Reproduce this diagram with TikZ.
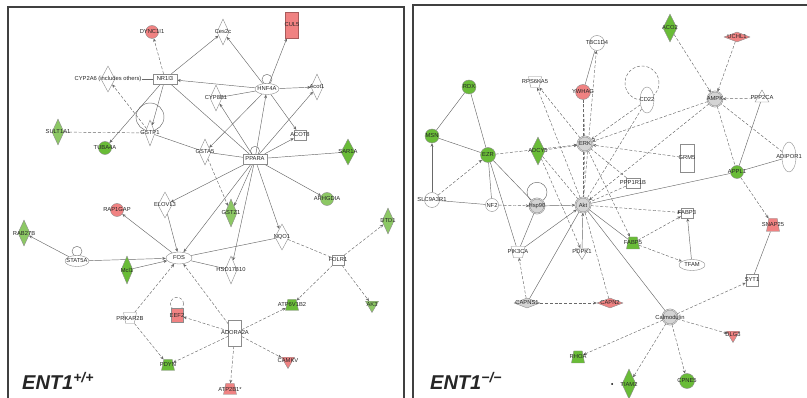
\documentclass[tikz,border=0pt]{standalone}
\usepackage{fontspec}
\setmainfont{Liberation Sans}
\usetikzlibrary{shapes.geometric,arrows.meta}
\pgfdeclarelayer{bg}
\pgfsetlayers{bg,main}
\definecolor{gn}{RGB}{105,188,55}
\definecolor{lg}{RGB}{140,200,100}
\definecolor{rd}{RGB}{240,130,130}
\definecolor{cpx}{RGB}{212,212,212}
\definecolor{edgec}{RGB}{105,105,105}
\begin{document}
\begin{tikzpicture}[x=1pt,y=-1pt,
 lbl/.style={font=\fontsize{5.8}{5.8}\selectfont, text=black!85, inner sep=0pt},
 g/.style={draw=black!45, line width=0.4pt, inner sep=0pt, fill=white, label={[lbl]center:#1}},
 circ/.style={g=#1, circle, minimum size=13pt},
 cplx/.style={g=#1, circle, minimum size=15pt, fill=cpx, double=cpx, double distance=0.8pt},
 dia/.style={g=#1, diamond, minimum width=12pt, minimum height=26pt},
 flat/.style={g=#1, diamond, minimum width=26pt, minimum height=10pt},
 box/.style={g=#1, rectangle, minimum width=24pt, minimum height=10pt},
 sq/.style={g=#1, rectangle, minimum width=12pt, minimum height=10pt},
 tall/.style={g=#1, rectangle, minimum width=13pt, minimum height=26pt},
 ell/.style={g=#1, ellipse, minimum width=24pt, minimum height=11pt},
 tell/.style={g=#1, ellipse, minimum width=14pt, minimum height=26pt},
 tdown/.style={g=#1, regular polygon, regular polygon sides=3, shape border rotate=180, minimum size=15pt},
 tup/.style={g=#1, regular polygon, regular polygon sides=3, minimum size=16pt},
 trap/.style={g=#1, trapezium, inner sep=1.5pt, trapezium stretches=true, trapezium left angle=75, trapezium right angle=75, minimum width=13pt, minimum height=11pt},
 ktrap/.style={trap=#1, shape border rotate=180},
 ln/.style={draw=edgec, line width=0.45pt},
 ds/.style={ln, dash pattern=on 3pt off 1.8pt},
 ar/.style={-{Stealth[length=3.5pt,width=3pt]}},
 frame/.style={draw=black!75, line width=2pt},
 title/.style={font=\bfseries\itshape\fontsize{20}{20}\selectfont, text=black!85, anchor=base west, inner sep=0pt}
]
\useasboundingbox (0,0) rectangle (807,398);
\draw[frame] (8,7) rectangle (404,410);
\draw[frame] (413,5) rectangle (815,410);

% ---------- left panel nodes ----------
\node[circ=DYNC1I1, fill=rd] (dync) at (152,32) {};
\node[dia=Ces2c] (ces) at (223,32) {};
\node[tall=CUL5, fill=rd, draw=rd!70!black] (cul5) at (292,25) {};
\node[box=NR1I3] (nr) at (165,79) {};
\node[dia={}, minimum width=14pt] (cyp) at (108,79) {};
\node[lbl] (cyplbl) at (108,79) {CYP2A6 (includes others)};
\node[ell=HNF4A] (hnf) at (267,89) {};
\node[dia=Acot1] (mly) at (317,87) {};
\node[dia=CYP8B1] (cyp8) at (216,98) {};
\node[dia=GSTP1, minimum width=10pt] (gstp) at (150,133) {};
\node[dia=SULT1A1, fill=lg] (sult) at (58,132) {};
\node[circ=TUBA4A, fill=gn] (tuba) at (105,148) {};
\node[dia=GSTA5] (gsta) at (205,152) {};
\node[box=PPARA] (ppara) at (255,159) {};
\node[sq=ACOT8] (acot) at (300,135) {};
\node[dia=SAR1A, fill=gn, minimum width=14pt] (sar) at (348,152) {};
\node[circ=ARHGDIA, fill=lg] (arh) at (327,199) {};
\node[dia=GSTZ1, fill=lg, minimum height=28pt] (gstz) at (231,213) {};
\node[dia=DTD1, fill=lg] (dtd) at (388,221) {};
\node[dia=NQO1, minimum width=14pt] (nqo) at (282,237) {};
\node[sq=FOLR1] (folr) at (338,260) {};
\node[dia=ELOVL3, minimum width=14pt] (elo) at (165,205) {};
\node[circ=RAP1GAP, fill=rd] (rap) at (117,210) {};
\node[dia=RAB27B, fill=lg] (rab) at (24,233) {};
\node[ell=STAT5A] (stat) at (77,261) {};
\node[ell=FOS, minimum width=26pt, minimum height=12pt] (fos) at (179,258) {};
\node[dia=Mcl1, fill=gn, minimum height=28pt] (mcl) at (127,270) {};
\node[dia=HSD17B10, minimum height=28pt] (hsd) at (231,270) {};
\node[trap=ATP6V1B2, fill=gn] (atp6) at (292,305) {};
\node[tdown=AK3, fill=lg] (ak3) at (372,305) {};
\node[sq=EEF2, fill=rd, minimum height=14pt] (eef) at (177,315) {};
\node[ktrap=PRKAR2B] (prk) at (130,318) {};
\node[tall=ADORA2A] (ado) at (235,333) {};
\node[tdown=CAMKV, fill=rd] (cam) at (288,361) {};
\node[trap=PDYN, fill=gn] (pdyn) at (168,365) {};
\node[trap=ATP2B1*, fill=rd] (atp2) at (230,389) {};
\node[title] (t1) at (22,390) {ENT1\textsuperscript{+/+}};

% ---------- right panel nodes ----------
\node[circ=TBC1D4, minimum size=15pt] (tbc) at (597,43) {};
\node[ktrap=RPS6KA5] (rps) at (535,82) {};
\node[circ=YWHAG, fill=rd, minimum size=15pt] (ywh) at (583,92) {};
\node[circ=RDX, fill=gn, minimum size=14pt] (rdx) at (469,87) {};
\node[circ=MSN, fill=gn, minimum size=14pt] (msn) at (432,136) {};
\node[dia=ACO2, fill=gn, minimum width=14pt, minimum height=28pt] (aco) at (670,28) {};
\node[flat=UCHL1, fill=rd] (uch) at (737,37) {};
\node[tell=CD22] (cd22) at (647,100) {};
\node[cplx=AMPK] (ampk) at (715,99) {};
\node[tup=PPP2CA] (ppp2) at (762,98) {};
\node[circ=EZR, fill=gn, minimum size=15pt] (ezr) at (488,155) {};
\node[dia=ADCY5, fill=gn, minimum width=14pt, minimum height=28pt] (adcy) at (538,151) {};
\node[cplx=ERK] (erk) at (585,144) {};
\node[circ=SLC9A3R1, minimum size=15pt] (slc) at (432,200) {};
\node[circ=NF2] (nf2) at (492,205) {};
\node[cplx=Hsp90] (hsp) at (537,206) {};
\node[cplx=Akt] (akt) at (583,205) {};
\node[ktrap=PIK3CA, minimum width=14pt] (pik) at (518,252) {};
\node[tdown=PDPK1] (pdpk) at (582,252) {};
\node[tall=GRM5, minimum width=14pt, minimum height=28pt] (grm) at (687,158) {};
\node[sq=PPP1R1B, minimum width=14pt] (ppp1) at (633,183) {};
\node[circ=APPL1, fill=gn] (appl) at (737,172) {};
\node[tell=ADIPOR1, minimum height=30pt] (adip) at (789,157) {};
\node[sq=FABP3] (fabp3) at (687,213) {};
\node[trap=SNAP25, fill=rd, minimum width=13pt, minimum height=13pt] (snap) at (773,225) {};
\node[trap=FABP5, fill=gn, minimum width=13pt, minimum height=12pt] (fabp5) at (633,243) {};
\node[ell=TFAM, minimum width=26pt] (tfam) at (692,265) {};
\node[sq=SYT1, minimum height=12pt] (syt) at (752,280) {};
\node[flat=CAPNS1, fill=cpx] (capns) at (527,303) {};
\node[flat=CAPN2, fill=rd] (capn) at (610,303) {};
\node[cplx=Calmodulin] (calm) at (670,317) {};
\node[trap=RHOA, fill=gn, minimum width=13pt, minimum height=12pt] (rhoa) at (578,357) {};
\node[tdown=DLG3, fill=rd] (dlg) at (733,335) {};
\node[dia=TIAM2, fill=gn, minimum width=14pt, minimum height=30pt] (tiam) at (629,384) {};
\node[circle, fill=black, minimum size=2pt, inner sep=0pt] (dot) at (612,384) {};
\node[circ=CPNE5, fill=gn, minimum size=15pt] (cpne) at (687,381) {};
\node[title] (t2) at (430,390) {ENT1\textsuperscript{−/−}};

\begin{pgfonlayer}{bg}
% self loops
\draw[ln] ([yshift=4pt]hnf.north) circle[radius=5pt];
\draw[ln] ([yshift=16pt]gstp.center) circle[radius=14pt];
\draw[ln] ([yshift=3pt]ppara.north) circle[radius=4.5pt];
\draw[ln] ([yshift=4pt]stat.north) circle[radius=5pt];
\draw[ds] ([yshift=4pt]eef.north) circle[radius=6.5pt];
\draw[ln] ([yshift=6pt]hsp.north) circle[radius=10pt];
\draw[ds] (642,83) circle[radius=17pt];
% left edges
\draw[ds,ar] (nr) -- (dync);
\draw[ln,ar] (hnf) -- (nr);
\draw[ln] (cyplbl) -- (nr);
\draw[ds,ar] (gstp) -- (cyp);
\draw[ln,ar] (nr) -- (gstp);
\draw[ds] (sult) -- (gstp);
\draw[ln,ar] (nr) -- (tuba);
\draw[ln,ar] (nr) -- (ces);
\draw[ln,ar] (hnf) -- (ces);
\draw[ln,ar] (hnf) -- (cul5);
\draw[ln,ar] (hnf) -- (mly);
\draw[ln] (cyp8) -- (hnf);
\draw[ln,ar] (hnf) -- (acot);
\draw[ln,ar] (ppara) -- (hnf);
\draw[ln,ar] (hnf) -- (gsta);
\draw[ln,ar] (ppara) -- (cyp8);
\draw[ln,ar] (ppara) -- (mly);
\draw[ln,ar] (ppara) -- (acot);
\draw[ln] (ppara) -- (sar);
\draw[ln,ar] (ppara) -- (arh);
\draw[ln,ar] (ppara) -- (gstz);
\draw[ln,ar] (ppara) -- (nqo);
\draw[ln,ar] (ppara) -- (hsd);
\draw[ln,ar] (ppara) -- (fos);
\draw[ln] (ppara) -- (gsta);
\draw[ln] (nr) -- (ppara);
\draw[ln] (gstp) -- (gsta);
\draw[ds,ar] (gsta) -- (gstz);
\draw[ln,ar] (ppara) -- (elo);
\draw[ln,ar] (fos) -- (rap);
\draw[ln,ar] (stat) -- (rab);
\draw[ln,ar] (stat) -- (fos);
\draw[ln,ar] (elo) -- (fos);
\draw[ln,ar] (mcl) -- (fos);
\draw[ln] (fos) -- (nqo);
\draw[ln] (fos) -- (hsd);
\draw[ds] (nqo) -- (folr);
\draw[ds,ar] (folr) -- (dtd);
\draw[ds,ar] (folr) -- (ak3);
\draw[ds,ar] (folr) -- (atp6);
\draw[ds,ar] (ado) -- (atp6);
\draw[ds,ar] (ado) -- (cam);
\draw[ds,ar] (ado) -- (atp2);
\draw[ds,ar] (ado) -- (eef);
\draw[ds,ar] (ado) -- (pdyn);
\draw[ds,ar] (ado) -- (fos);
\draw[ds,ar] (prk) -- (fos);
\draw[ds,ar] (prk) -- (pdyn);
% right edges
\draw[ln] (rdx) -- (msn);
\draw[ln] (rdx) -- (ezr);
\draw[ln] (msn) -- (ezr);
\draw[ln,ar] (slc) -- (msn);
\draw[ds,ar] (slc) -- (ezr);
\draw[ln] (slc) -- (nf2);
\draw[ds,ar] (nf2) -- (hsp);
\draw[ln] (ezr) -- (nf2);
\draw[ln] (ezr) -- (hsp);
\draw[ln] (ezr) -- (pik);
\draw[ds,ar] (ezr) -- (erk);
\draw[ds,ar] (adcy) -- (erk);
\draw[ds,ar] (adcy) -- (pdpk);
\draw[ds] (adcy) -- (akt);
\draw[ln,ar] (hsp) -- (akt);
\draw[ln] (pik) -- (hsp);
\draw[ln,ar] (pik) -- (akt);
\draw[ln,ar] (pdpk) -- (akt);
\draw[ds,ar] (erk) -- (rps);
\draw[ds,ar] (akt) -- (rps);
\draw[ds] (ywh) -- (erk);
\draw[ds] (ywh) -- (akt);
\draw[ln] (tbc) -- (ywh);
\draw[ds,ar] (akt) -- (tbc);
\draw[ds,ar] (cd22) -- (erk);
\draw[ds] (cd22) -- (akt);
\draw[ds,ar] (ampk) -- (erk);
\draw[ds,ar] (aco) -- (ampk);
\draw[ds,ar] (uch) -- (ampk);
\draw[ds,ar] (ppp2) -- (ampk);
\draw[ln] (ppp2) -- (appl);
\draw[ds] (ampk) -- (appl);
\draw[ds] (adip) -- (ampk);
\draw[ds,ar] (ampk) -- (akt);
\draw[ln] (appl) -- (adip);
\draw[ln] (appl) -- (akt);
\draw[ds,ar] (appl) -- (snap);
\draw[ds,ar] (grm) -- (erk);
\draw[ds] (ppp1) -- (erk);
\draw[ds] (ppp1) -- (akt);
\draw[ds] (erk) -- (akt);
\draw[ds,ar] (akt) -- (fabp3);
\draw[ds,ar] (fabp5) -- (fabp3);
\draw[ln,ar] (tfam) -- (fabp3);
\draw[ds,ar] (fabp5) -- (tfam);
\draw[ln] (akt) -- (fabp5);
\draw[ds,ar] (erk) -- (fabp5);
\draw[ds,ar] (capns) -- (pik);
\draw[ln] (capns) -- (akt);
\draw[ds,ar] (capns) -- (capn);
\draw[ds] (akt) -- (capn);
\draw[ln] (calm) -- (akt);
\draw[ds,ar] (calm) -- (syt);
\draw[ln] (syt) -- (snap);
\draw[ds,ar] (calm) -- (dlg);
\draw[ds,ar] (calm) -- (cpne);
\draw[ds,ar] (calm) -- (tiam);
\draw[ds,ar] (calm) -- (rhoa);
\end{pgfonlayer}
\end{tikzpicture}
\end{document}
